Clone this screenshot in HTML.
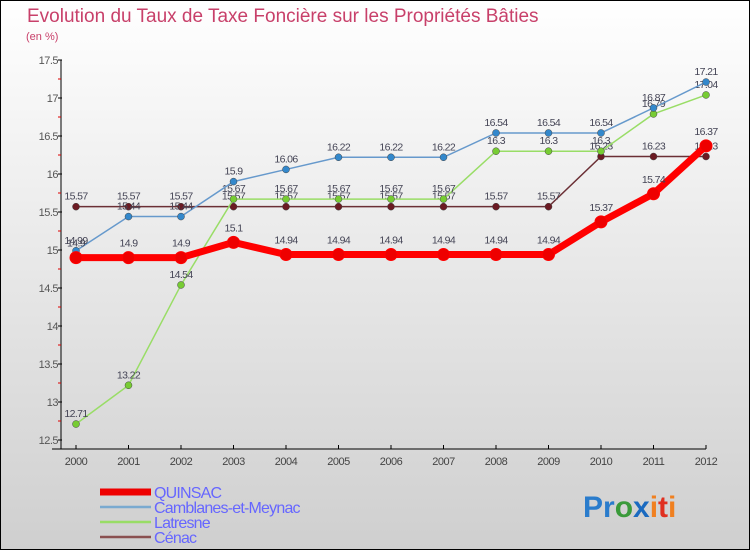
<!DOCTYPE html>
<html><head><meta charset="utf-8"><style>
body{margin:0}
svg{display:block;font-family:"Liberation Sans",sans-serif}
</style></head><body>
<svg width="750" height="550">
<defs><linearGradient id="bg" x1="0" y1="0" x2="0" y2="1"><stop offset="0" stop-color="#ffffff"/><stop offset="1" stop-color="#cfcfcf"/></linearGradient></defs>
<rect x="0.5" y="0.5" width="749" height="549" fill="url(#bg)" stroke="#000"/>
<text x="27" y="22" font-size="19" fill="#c8406a">Evolution du Taux de Taxe Foncière sur les Propriétés Bâties</text>
<text x="26" y="40" font-size="11" fill="#c8406a">(en %)</text>
<g id="axes"></g>
<g id="series"></g>
<g id="legend"></g>
<text x="583" y="517" font-size="30" font-weight="bold"><tspan fill="#2a7ccc">Pr</tspan><tspan fill="#3a9a3a">o</tspan><tspan fill="#1a6ac0">x</tspan><tspan fill="#f08020">i</tspan><tspan fill="#e03020">t</tspan><tspan fill="#f08020">i</tspan></text>
</svg>
<script>
const years=[2000,2001,2002,2003,2004,2005,2006,2007,2008,2009,2010,2011,2012];
const yTicks=[12.5,13,13.5,14,14.5,15,15.5,16,16.5,17,17.5];
const quinsac=[14.9,14.9,14.9,15.1,14.94,14.94,14.94,14.94,14.94,14.94,15.37,15.74,16.37];
const camblanes=[14.99,15.44,15.44,15.9,16.06,16.22,16.22,16.22,16.54,16.54,16.54,16.87,17.21];
const latresne=[12.71,13.22,14.54,15.67,15.67,15.67,15.67,15.67,16.3,16.3,16.3,16.79,17.04];
const cenac=[15.57,15.57,15.57,15.57,15.57,15.57,15.57,15.57,15.57,15.57,16.23,16.23,16.23];
const NS="http://www.w3.org/2000/svg";
const x=i=>76+i*(706-76)/(years.length-1);
const y=v=>440-(v-12.5)*76;
function mk(tag,attrs,parent,txt){const e=document.createElementNS(NS,tag);for(const k in attrs)e.setAttribute(k,attrs[k]);if(txt!==undefined)e.textContent=txt;parent.appendChild(e);return e;}
const ax=document.getElementById('axes');
let e=mk('line',{x1:61,y1:60,x2:61,y2:449,stroke:'#000'},ax);


e=mk('line',{x1:52,y1:449,x2:706,y2:449,stroke:'#000'},ax);


yTicks.forEach((t,i)=>{
  mk('line',{x1:58,y1:y(t),x2:62,y2:y(t),stroke:'#000'},ax);
  if(i<yTicks.length-1)mk('line',{x1:58,y1:y(t+0.25),x2:61,y2:y(t+0.25),stroke:'#d00'},ax);
  e=mk('text',{x:58,y:y(t)+4,'font-size':11,fill:'#555','text-anchor':'end','letter-spacing':'-0.5'},ax,String(t));
  
  
});
years.forEach((yr,i)=>{
  mk('line',{x1:x(i),y1:445,x2:x(i),y2:449,stroke:'#000'},ax);
  e=mk('text',{x:x(i),y:465,'font-size':11,fill:'#444','text-anchor':'middle','letter-spacing':'-0.5'},ax,String(yr));
  
  
});
const sg=document.getElementById('series');
const series=[
 {name:'cenac',d:cenac,c:'#6b2f35',w:1.5,r:3.5,f:'#6b1a22'},
 {name:'latresne',d:latresne,c:'#99dd66',w:1.5,r:3.5,f:'#77cc33'},
 {name:'camblanes',d:camblanes,c:'#6699cc',w:1.5,r:3.5,f:'#3388cc'},
 {name:'quinsac',d:quinsac,c:'#ff0000',w:7,r:6,f:'#ee0000'}
];
series.forEach(s=>{
  const g=mk('g',{},sg);
  
  
  const l=mk('polyline',{points:s.d.map((v,i)=>x(i)+','+y(v)).join(' '),fill:'none',stroke:s.c,'stroke-width':s.w},g);
  
  
  s.d.forEach((v,i)=>{
    const p=mk('circle',{cx:x(i),cy:y(v),r:s.r,fill:s.f,stroke:s.name==='quinsac'?'#ff0000':'#444','stroke-width':s.name==='quinsac'?1:0.5},g);
    
    
    const t=mk('text',{x:x(i),y:y(v)-(s.name==='quinsac'?11:7),'font-size':10.5,fill:'#445','text-anchor':'middle','letter-spacing':'-0.6'},g,String(v));
    
    
  });
});
const lg=document.getElementById('legend');
[['QUINSAC','#ee0000',7],['Camblanes-et-Meynac','#7aaad0',2.5],['Latresne','#99dd66',2.5],['Cénac','#8a5050',2.5]].forEach((it,i)=>{
  const yy=492+i*15;
  const g=mk('g',{},lg);
  
  
  mk('line',{x1:100,y1:yy,x2:151,y2:yy,stroke:it[1],'stroke-width':it[2]},g);
  mk('text',{x:154,y:yy+6,'font-size':16,fill:'#6666ff','letter-spacing':'-0.8'},g,it[0]);
});
</script>
</body></html>
